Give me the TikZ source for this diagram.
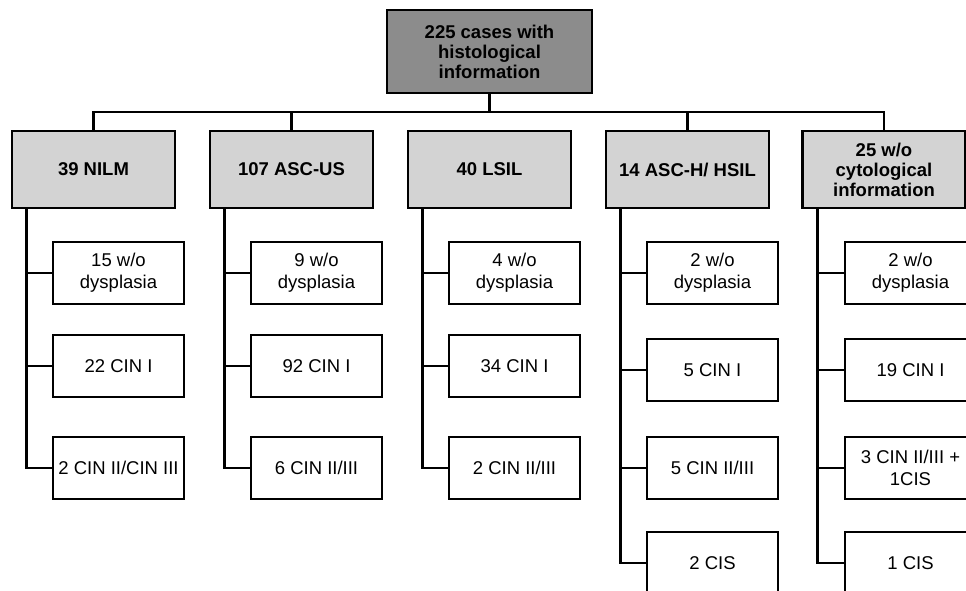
\documentclass[tikz,border=0pt]{standalone}
\usepackage{fontspec}
\setmainfont{Liberation Sans}
\definecolor{topfill}{RGB}{140,140,140}
\definecolor{midfill}{RGB}{211,211,211}
\begin{document}
\begin{tikzpicture}[x=1pt,y=-1pt,line width=2.6pt,
  topbox/.style={draw=black,fill=topfill,minimum width=205pt,minimum height=83pt,align=center,inner sep=0pt,font=\fontsize{18.5}{20}\selectfont\bfseries},
  midbox/.style={draw=black,fill=midfill,minimum width=163pt,minimum height=77pt,align=center,inner sep=0pt,font=\fontsize{18.5}{20}\selectfont\bfseries},
  leafbox/.style={draw=black,fill=white,minimum width=131pt,minimum height=62pt,align=center,inner sep=0pt,font=\fontsize{18.5}{22}\selectfont},
  link/.style={draw=black,line width=2.6pt}]
\useasboundingbox (0,0) rectangle (966,590);
\clip (0,0) rectangle (966,590);
\fill[white] (0,0) rectangle (966,590);

\node[topbox] (top) at (489.5,51.5) {225 cases with\\histological\\information};

\node[midbox] (m1) at (93.5,169.5) {39 NILM};
\node[midbox] (m2) at (291.5,169.5) {107 ASC-US};
\node[midbox] (m3) at (489.5,169.5) {40 LSIL};
\node[midbox] (m4) at (687.5,169.5) {14 ASC-H/ HSIL};
\node[midbox] (m5) at (884,169.5) {25 w/o\\cytological\\information};

% column 1
\node[leafbox] (c11) at (118.5,273) {15 w/o\\dysplasia};
\node[leafbox] (c12) at (118.5,366) {22 CIN I};
\node[leafbox] (c13) at (118.5,468) {2 CIN II/CIN III};
% column 2
\node[leafbox] (c21) at (316.5,273) {9 w/o\\dysplasia};
\node[leafbox] (c22) at (316.5,366) {92 CIN I};
\node[leafbox] (c23) at (316.5,468) {6 CIN II/III};
% column 3
\node[leafbox] (c31) at (514.5,273) {4 w/o\\dysplasia};
\node[leafbox] (c32) at (514.5,366) {34 CIN I};
\node[leafbox] (c33) at (514.5,468) {2 CIN II/III};
% column 4
\node[leafbox] (c41) at (712.5,273) {2 w/o\\dysplasia};
\node[leafbox] (c42) at (712.5,370) {5 CIN I};
\node[leafbox] (c43) at (712.5,468) {5 CIN II/III};
\node[leafbox] (c44) at (712.5,563) {2 CIS};
% column 5
\node[leafbox] (c51) at (910.5,273) {2 w/o\\dysplasia};
\node[leafbox] (c52) at (910.5,370) {19 CIN I};
\node[leafbox] (c53) at (910.5,468) {3 CIN II/III +\\1CIS};
\node[leafbox] (c54) at (910.5,563) {1 CIS};

% bus
\coordinate (bus) at (0,112);
\draw[link] (top.south) -- (top.south |- bus);
\draw[link] (m1.north) -- (m1.north |- bus) -| (m5.north);
\draw[link] (m2.north) -- (m2.north |- bus);
\draw[link] (m4.north) -- (m4.north |- bus);

% spines
\foreach \c/\last/\n in {1/3/3,2/3/3,3/3/3,4/4/4,5/4/4}{
  \coordinate (s\c) at ([xshift=16pt]m\c.south west);
  \draw[link] (s\c) |- (c\c\last.west);
  \foreach \r in {1,...,\n}{
    \draw[link] (s\c |- c\c\r.west) -- (c\c\r.west);
  }
}
\end{tikzpicture}
\end{document}
